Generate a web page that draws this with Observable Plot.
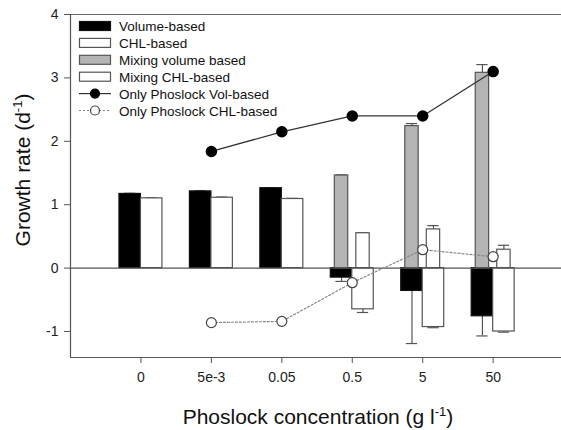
<!DOCTYPE html>
<html>
<head>
<meta charset="utf-8">
<script src="https://cdn.jsdelivr.net/npm/d3@7"></script>
<script src="https://cdn.jsdelivr.net/npm/@observablehq/plot@0.6"></script>
<style>
  html, body { margin: 0; padding: 0; background: #fff; }
  #chart { width: 561px; height: 430px; }
</style>
</head>
<body>
<div id="chart"></div>
<script>
// ---- Data ----
const concentrations = ["0", "5e-3", "0.05", "0.5", "5", "50"];
const volumeBased    = [1.17, 1.21, 1.26, -0.15, -0.36, -0.76];
const volumeErr      = [0.01, 0.01, 0.01, 0.06, 0.83, 0.31];
const chlBased       = [1.10, 1.11, 1.09, -0.65, -0.93, -1.00];
const chlErr         = [0.01, 0.01, 0.01, 0.05, 0.01, 0.01];

const mixingConc      = ["0.5", "5", "50"];
const mixingVolume    = [1.46, 2.24, 3.08];
const mixingVolumeErr = [0.01, 0.04, 0.13];
const mixingChl       = [0.55, 0.61, 0.29];
const mixingChlErr    = [0.01, 0.06, 0.07];

const onlyConc = ["5e-3", "0.05", "0.5", "5", "50"];
const onlyVol  = [1.84, 2.15, 2.40, 2.40, 3.10];
const onlyChl  = [-0.86, -0.84, -0.23, 0.29, 0.18];

const yTicks = [-1, 0, 1, 2, 3, 4];
const yMin = -1.41, yMax = 4;
const xMin = -1, xMax = 5.97;

// ---- Build tables ----
const idx = c => concentrations.indexOf(c);
const wide = 0.305, narrow = 0.095, cap = 0.08;

const bars = [];
const errs = [];
concentrations.forEach((c, i) => {
  bars.push({series: "vol", x1: i - wide, x2: i, y: volumeBased[i]});
  bars.push({series: "chl", x1: i, x2: i + wide, y: chlBased[i]});
  const sv = Math.sign(volumeBased[i]), sc = Math.sign(chlBased[i]);
  errs.push({x: i - wide / 2, y1: volumeBased[i], y2: volumeBased[i] + sv * volumeErr[i]});
  errs.push({x: i + wide / 2, y1: chlBased[i], y2: chlBased[i] + sc * chlErr[i]});
});
const mixBars = [];
mixingConc.forEach((c, k) => {
  const i = idx(c);
  const xv = i - wide / 2, xc = i + wide / 2;
  mixBars.push({series: "mixvol", x1: xv - narrow, x2: xv + narrow, y: mixingVolume[k]});
  mixBars.push({series: "mixchl", x1: xc - narrow, x2: xc + narrow, y: mixingChl[k]});
  errs.push({x: xv, y1: mixingVolume[k], y2: mixingVolume[k] + mixingVolumeErr[k]});
  errs.push({x: xc, y1: mixingChl[k], y2: mixingChl[k] + mixingChlErr[k]});
});
const only = onlyConc.map((c, k) => ({x: idx(c), vol: onlyVol[k], chl: onlyChl[k]}));

const fillOf = {vol: "#000", chl: "#fff", mixvol: "#b4b4b4", mixchl: "#fff"};
const strokeOf = {vol: "#111", chl: "#555", mixvol: "#555", mixchl: "#555"};

const plot = Plot.plot({
  width: 561,
  height: 430,
  marginLeft: 70,
  marginRight: 0,
  marginTop: 14,
  marginBottom: 73,
  style: {fontFamily: "Liberation Sans, Arial, sans-serif", fontSize: "14px", color: "#222", background: "#fff"},
  x: {type: "linear", domain: [xMin, xMax]},
  y: {domain: [yMin, yMax]},
  marks: [
    // frame lines
    Plot.ruleY([yMax], {stroke: "#666", strokeWidth: 1.2}),
    Plot.ruleY([yMin], {stroke: "#555", strokeWidth: 1.2}),
    Plot.ruleX([xMin], {stroke: "#555", strokeWidth: 1.2}),
    Plot.axisY({ticks: yTicks, tickFormat: d => String(d), tickSize: 6, tickPadding: 6, stroke: "#555", fontSize: 14, label: null}),
    Plot.axisX({ticks: d3.range(concentrations.length), tickFormat: i => concentrations[i], tickSize: 6, tickPadding: 9, stroke: "#555", fontSize: 14, label: null}),
    // error bars
    Plot.ruleX(errs, {x: "x", y1: "y1", y2: "y2", stroke: "#555", strokeWidth: 1.2}),
    Plot.ruleY(errs, {y: "y2", x1: d => d.x - cap, x2: d => d.x + cap, stroke: "#555", strokeWidth: 1.2}),
    // bars
    Plot.rectY(bars, {x1: "x1", x2: "x2", y1: 0, y2: "y", fill: d => fillOf[d.series], stroke: d => strokeOf[d.series], strokeWidth: 1.2}),
    Plot.rectY(mixBars, {x1: "x1", x2: "x2", y1: 0, y2: "y", fill: d => fillOf[d.series], stroke: d => strokeOf[d.series], strokeWidth: 1.2}),
    Plot.ruleY([0], {stroke: "#555", strokeWidth: 1.2}),
    // Only Phoslock lines
    Plot.line(only, {x: "x", y: "chl", stroke: "#888", strokeWidth: 1.2, strokeDasharray: "2,2"}),
    Plot.dot(only, {x: "x", y: "chl", r: 5, fill: "#fff", stroke: "#444", strokeWidth: 1.2}),
    Plot.line(only, {x: "x", y: "vol", stroke: "#333", strokeWidth: 1.3}),
    Plot.dot(only, {x: "x", y: "vol", r: 5, fill: "#000", stroke: "#000"})
  ]
});

document.getElementById("chart").appendChild(plot);

// ---- Axis titles with superscripts ----
const svg = d3.select(plot);
const font = "Liberation Sans, Arial, sans-serif";
const xt = svg.append("text")
  .attr("x", 318).attr("y", 424)
  .attr("text-anchor", "middle")
  .attr("font-family", font).attr("font-size", 21).attr("fill", "#111");
xt.append("tspan").text("Phoslock concentration (g l");
xt.append("tspan").attr("dy", -8).attr("font-size", 13).text("-1");
xt.append("tspan").attr("dy", 8).text(")");

const yt = svg.append("text")
  .attr("transform", "translate(30,170) rotate(-90)")
  .attr("text-anchor", "middle")
  .attr("font-family", font).attr("font-size", 21).attr("fill", "#111");
yt.append("tspan").text("Growth rate (d");
yt.append("tspan").attr("dy", -8).attr("font-size", 13).text("-1");
yt.append("tspan").attr("dy", 8).text(")");

// ---- Legend ----
const legendItems = [
  {label: "Volume-based", kind: "rect", fill: "#000", stroke: "#111"},
  {label: "CHL-based", kind: "rect", fill: "#fff", stroke: "#555"},
  {label: "Mixing volume based", kind: "rect", fill: "#b4b4b4", stroke: "#555"},
  {label: "Mixing CHL-based", kind: "rect", fill: "#fff", stroke: "#555"},
  {label: "Only Phoslock Vol-based", kind: "line", fill: "#000", stroke: "#333", dash: null},
  {label: "Only Phoslock CHL-based", kind: "line", fill: "#fff", stroke: "#888", dash: "2,2"}
];
const lg = svg.append("g").attr("font-family", font).attr("font-size", 13.5).attr("text-anchor", "start");
legendItems.forEach((it, i) => {
  const cy = 26 + i * 16.9;
  if (it.kind === "rect") {
    lg.append("rect").attr("x", 79.5).attr("y", cy - 4.5).attr("width", 31).attr("height", 9)
      .attr("fill", it.fill).attr("stroke", it.stroke).attr("stroke-width", 1.2);
  } else {
    lg.append("line").attr("x1", 79).attr("x2", 111).attr("y1", cy).attr("y2", cy)
      .attr("stroke", it.stroke).attr("stroke-width", 1.2).attr("stroke-dasharray", it.dash);
    lg.append("circle").attr("cx", 95).attr("cy", cy).attr("r", 4.5)
      .attr("fill", it.fill).attr("stroke", it.fill === "#fff" ? "#444" : "#000").attr("stroke-width", 1.2);
  }
  lg.append("text").attr("x", 119).attr("y", cy + 5).attr("text-anchor", "start").attr("fill", "#111").text(it.label);
});
</script>
</body>
</html>
